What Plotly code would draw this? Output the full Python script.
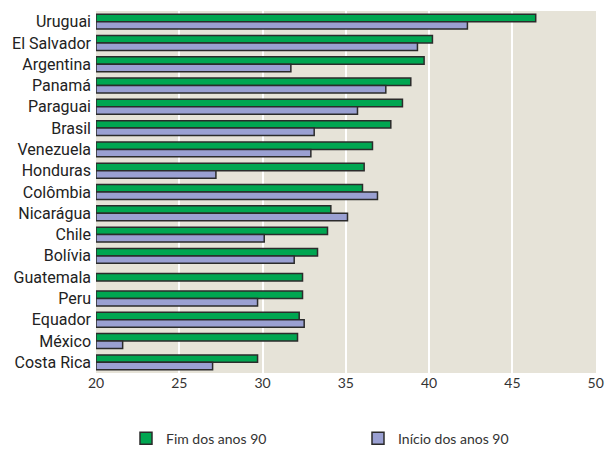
import plotly.graph_objects as go

countries = ["Uruguai", "El Salvador", "Argentina", "Panamá", "Paraguai", "Brasil",
             "Venezuela", "Honduras", "Colômbia", "Nicarágua", "Chile", "Bolívia",
             "Guatemala", "Peru", "Equador", "México", "Costa Rica"]
fim_90 = [46.4, 40.2, 39.7, 38.9, 38.4, 37.7, 36.6, 36.1, 36.0, 34.1, 33.9, 33.3,
          32.4, 32.4, 32.2, 32.1, 29.7]
inicio_90 = [42.3, 39.3, 31.7, 37.4, 35.7, 33.1, 32.9, 27.2, 36.9, 35.1, 30.1, 31.9,
             None, 29.7, 32.5, 21.6, 27.0]
x_ticks = [20, 25, 30, 35, 40, 45, 50]

BASE = 20
W = 0.35
GREEN = "#00a651"
BLUE = "#9aa0d2"
EDGE = "#2b2b2b"

green_offset = [(-W / 2 if b is None else -W) for b in inicio_90]
fig = go.Figure()
fig.add_trace(go.Bar(
    y=countries, x=[v - BASE for v in fim_90], base=BASE, orientation="h",
    name="Fim dos anos 90", width=W, offset=green_offset,
    marker=dict(color=GREEN, line=dict(color=EDGE, width=1.5)),
))
fig.add_trace(go.Bar(
    y=countries, x=[(v - BASE) if v is not None else None for v in inicio_90], base=BASE,
    orientation="h", name="Início dos anos 90", width=W, offset=0,
    marker=dict(color=BLUE, line=dict(color=EDGE, width=1.5)),
))

fig.update_layout(
    width=605, height=450,
    margin=dict(l=96, r=9, t=11, b=77),
    barmode="overlay",
    paper_bgcolor="white", plot_bgcolor="#e6e3d8",
    font=dict(family="Lato, Open Sans, sans-serif", size=14, color="#222"),
    xaxis=dict(range=[20, 50.02], tickvals=x_ticks, showgrid=True, gridcolor="white",
               gridwidth=2, zeroline=False, showline=False, ticks="", ticklen=0,
               automargin=False, tickfont=dict(size=14, color="#333")),
    yaxis=dict(categoryorder="array", categoryarray=countries, autorange="reversed",
               showgrid=False, zeroline=False, ticks="", ticklen=0, ticklabelstandoff=4,
               automargin=False,
               tickfont=dict(family="Roboto, Liberation Sans, sans-serif",
                             size=16, color="#222")),
    legend=dict(orientation="h", x=0.06, xanchor="left", yref="container", y=0.025,
                yanchor="middle", entrywidth=187, entrywidthmode="pixels",
                font=dict(size=14, color="#333"), bgcolor="rgba(0,0,0,0)"),
    showlegend=True,
)
fig.write_html("out.html", config={"displayModeBar": False},
               post_script="document.body.style.margin='0';")
